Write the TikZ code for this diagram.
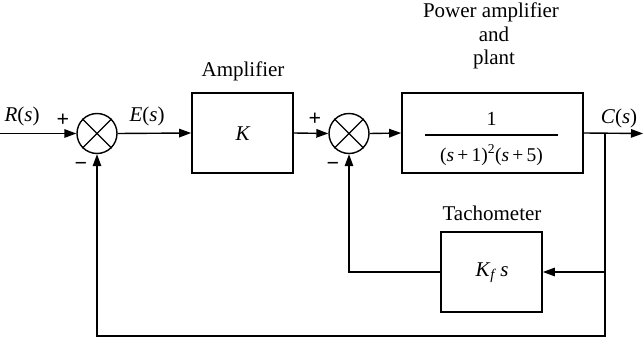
\documentclass[tikz,border=0pt]{standalone}
\usepackage{fontspec}
\setmainfont{Liberation Serif}
\usetikzlibrary{arrows.meta}
\newcommand{\fsz}[1]{\fontsize{#1}{#1}\selectfont}
\begin{document}
\begin{tikzpicture}[x=1pt,y=-1pt,
  conn/.style={line width=1.4pt,-{Triangle[length=12pt,width=8.5pt]}},
  blockbox/.style={draw,line width=1.7pt,minimum height=80pt,inner sep=0pt},
  sumnode/.style={draw,circle,line width=1.4pt,minimum size=40pt,inner sep=0pt},
  lbl/.style={inner sep=0pt,font=\fsz{21}},
  sgn/.style={inner sep=0pt,font=\fsz{22}\bfseries},
  mlbl/.style={inner sep=0pt,font=\fsz{21}}]
\useasboundingbox (0,0) rectangle (643,339);
% blocks
\node[sumnode] (s1) at (97,133.5) {};
\node[blockbox,minimum width=101pt] (K) at (242.5,133) {};
\node[sumnode] (s2) at (349,133.5) {};
\node[blockbox,minimum width=181pt] (G) at (492.5,133) {};
\node[blockbox,minimum width=101pt] (T) at (491.5,272) {};
% crosses
\draw[line width=1.3pt] (s1.north west) -- (s1.south east) (s1.north east) -- (s1.south west);
\draw[line width=1.3pt] (s2.north west) -- (s2.south east) (s2.north east) -- (s2.south west);
% block contents
\node[mlbl] (Ktxt) at (243,134) {\textit{K}};
\node[inner sep=0pt,font=\fsz{20}] (num) at (491.5,119) {1};
\coordinate (barL) at (425,135);
\coordinate (barR) at (558,135);
\draw[line width=1.2pt] (barL) -- (barR);
\node[inner sep=0pt,font=\fsz{19.5}] (den) at (491.5,155) {(\textit{s}\,+\,1)\textsuperscript{2}(\textit{s}\,+\,5)};
\node[mlbl] (Tf) at (492,273) {\textit{K}\textsubscript{\textit{f}}\,\textit{s}};
% titles
\node[lbl,anchor=base] (amp) at (243,77) {Amplifier};
\node[lbl,anchor=base] (pa1) at (491,18) {Power amplifier};
\node[lbl,anchor=base] (pa2) at (494,42) {and};
\node[lbl,anchor=base] (pa3) at (494,65) {plant};
\node[lbl,anchor=base] (tach) at (492,221) {Tachometer};
% signal labels
\node[mlbl,anchor=base] (R) at (22,122) {\textit{R}(\textit{s})};
\node[mlbl,anchor=base] (E) at (147,122) {\textit{E}(\textit{s})};
\node[mlbl,anchor=base] (C) at (619,124) {\textit{C}(\textit{s})};
\node[sgn] (p1) at (63,120) {+};
\node[sgn] (p2) at (315,119) {+};
\node[sgn] (m1) at (81,166) {−};
\node[sgn] (m2) at (333,166) {−};
% connectors
\coordinate (in) at (0,133.5);
\coordinate (out) at (643,133.5);
\coordinate (br) at (605,133.5);
\coordinate (brb) at (605,336);
\draw[conn] (in) -- (s1.west);
\draw[conn] (s1.east) -- (K.west);
\draw[conn] (K.east) -- (s2.west);
\draw[conn] (s2.east) -- (G.west);
\draw[conn] (G.east) -- (out);
\draw[conn] (br) |- (T.east);
\draw[conn] (T.west) -| (s2.south);
\draw[conn] (br) -- (brb) -| (s1.south);
\end{tikzpicture}
\end{document}
